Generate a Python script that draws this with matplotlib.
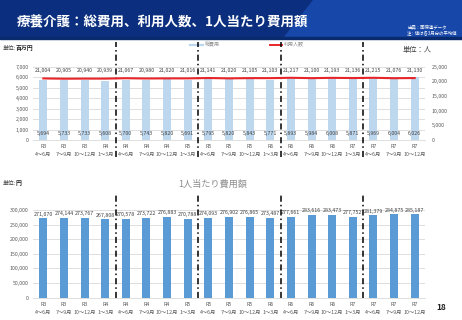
import matplotlib
matplotlib.use("Agg")
import matplotlib.pyplot as plt
import numpy as np
from matplotlib.patches import Polygon, Rectangle

plt.rcParams['font.family'] = ['Noto Sans CJK JP', 'DejaVu Sans']

years = ["R3", "R3", "R3", "R4", "R4", "R4", "R4", "R5", "R5", "R5", "R5",
         "R6", "R6", "R6", "R6", "R7", "R7", "R7", "R7"]
quarters = ["4～6月", "7～9月", "10～12月", "1～3月",
            "4～6月", "7～9月", "10～12月", "1～3月",
            "4～6月", "7～9月", "10～12月", "1～3月",
            "4～6月", "7～9月", "10～12月", "1～3月",
            "4～6月", "7～9月", "10～12月"]
total_cost = [5694, 5733, 5733, 5608, 5700, 5743, 5820, 5691, 5795, 5820,
              5843, 5771, 5893, 5984, 6008, 5871, 5969, 6004, 6026]
users = [21004, 20905, 20940, 20939, 21067, 20980, 21020, 21016, 21141, 21020,
         21105, 21103, 21217, 21100, 21193, 21136, 21215, 21076, 21130]
per_person = [271070, 274144, 273767, 267808, 270578, 273722, 276883, 270788,
              274093, 276902, 276865, 273487, 277661, 283616, 283473, 277752,
              281379, 284875, 285187]
year_breaks = [3.5, 7.5, 11.5, 15.5]

W, H = 462, 320
fig = plt.figure(figsize=(W / 100, H / 100), dpi=100)

# header banner
bg = fig.add_axes([0, 0, 1, 1])
bg.set_xlim(0, W)
bg.set_ylim(H, 0)
bg.axis("off")
bg.add_patch(Rectangle((0, 0), W, 38, color="#0b2f7e", zorder=0))
bg.add_patch(Polygon([(313, 0), (W, 0), (W, 38), (283, 38)], closed=True,
                     color="#1747a8", zorder=1))
bg.add_patch(Rectangle((0, 37), W, 1.5, color="#0a2a6e", zorder=2))
bg.text(17, 22, "療養介護：総費用、利用人数、1人当たり費用額", color="white",
        fontsize=9.7, fontweight="bold", va="center", ha="left", zorder=3)
bg.text(407, 28, "出典：国保連データ", color="white", fontsize=3.2,
        va="center", ha="left", zorder=3)
bg.text(407, 33.5, "注：値は各3月分の平均値", color="white", fontsize=3.2,
        va="center", ha="left", zorder=3)

# units and legend
bg.text(3, 48, "単位:", color="#404040", fontsize=4.2, va="center")
bg.text(15.8, 48, "百万円", color="#202020", fontsize=4.2, fontweight="bold", va="center")
bg.text(403, 50, "単位：人", color="#404040", fontsize=5.2, va="center")
bg.plot([190, 203], [44.5, 44.5], color="#bdd7ee", lw=1.6)
bg.text(205, 44, "総費用", color="#909090", fontsize=3.6, va="center")
bg.plot([270, 282], [44.5, 44.5], color="#e8262a", lw=1.4)
bg.text(284, 44, "利用人数", color="#909090", fontsize=3.6, va="center")
bg.text(3, 183, "単位:", color="#404040", fontsize=4.2, va="center")
bg.text(15.8, 183, "円", color="#202020", fontsize=4.2, fontweight="bold", va="center")
bg.text(213, 184, "1人当たり費用額", color="#8c8c8c", fontsize=6.6,
        va="center", ha="center")
bg.text(441, 308, "18", color="#202020", fontsize=6, fontweight="bold",
        va="center", ha="center")

x = np.arange(len(years))
xlabels = [f"{y}\n{q}" for y, q in zip(years, quarters)]
grid_c = "#d9d9d9"
txt_c = "#595959"


def style(ax):
    for s in ax.spines.values():
        s.set_visible(False)
    ax.spines["bottom"].set_visible(True)
    ax.spines["bottom"].set_color(grid_c)
    ax.spines["bottom"].set_linewidth(0.6)
    ax.yaxis.grid(True, color=grid_c, lw=0.6)
    ax.set_axisbelow(True)
    ax.tick_params(length=0, labelsize=3.8, labelcolor=txt_c, pad=3)
    ax.set_xticks(x)
    ax.set_xticklabels(xlabels, linespacing=1.7)
    ax.set_xlim(-0.5, len(x) - 0.5)


# top chart
ax1 = fig.add_axes([33 / W, (H - 140) / H, 392 / W, 73.3 / H])
ax1.bar(x, total_cost, width=0.39, color="#bdd7ee", zorder=2)
ax1.set_ylim(0, 7000)
ax1.set_yticks(np.arange(0, 7001, 1000))
ax1.set_yticklabels([f"{v:,}" for v in range(0, 7001, 1000)])
style(ax1)
for xi, v in zip(x, total_cost):
    ax1.text(xi, 600, f"{v:,}", ha="center", va="center", fontsize=3.8,
             color="#404040", zorder=4)
ax1b = ax1.twinx()
ax1b.plot(x, users, color="#e8262a", lw=1.5, zorder=3)
ax1b.set_ylim(0, 25000)
ax1b.set_yticks(np.arange(0, 25001, 5000))
ax1b.set_yticklabels([f"{v:,}" for v in range(0, 25001, 5000)])
for s in ax1b.spines.values():
    s.set_visible(False)
ax1b.tick_params(length=0, labelsize=3.8, labelcolor=txt_c, pad=5)
for xi, v in zip(x, users):
    ax1b.text(xi, 23800, f"{v:,}", ha="center", va="center", fontsize=3.8,
              color="#404040")
for b in year_breaks:
    ax1.plot([b, b], [-0.232, 1.337], transform=ax1.get_xaxis_transform(),
             color="black", lw=1.1, ls=(0, (4, 2, 1, 2)), clip_on=False, zorder=5)

# bottom chart
ax2 = fig.add_axes([33 / W, (H - 297.7) / H, 392 / W, 87.7 / H])
ax2.bar(x, per_person, width=0.39, color="#5b9bd5", zorder=2)
ax2.set_ylim(0, 300000)
ax2.set_yticks(np.arange(0, 300001, 50000))
ax2.set_yticklabels([f"{v:,}" for v in range(0, 300001, 50000)])
style(ax2)
for xi, v in zip(x, per_person):
    ax2.text(xi, v + 6000, f"{v:,}", ha="center", va="bottom", fontsize=3.8,
             color="#404040", zorder=4)
for b in year_breaks:
    ax2.plot([b, b], [0, 1.194], transform=ax2.get_xaxis_transform(),
             color="black", lw=1.1, ls=(0, (4, 2, 1, 2)), clip_on=False, zorder=5)

fig.savefig("out.png", dpi=100)
